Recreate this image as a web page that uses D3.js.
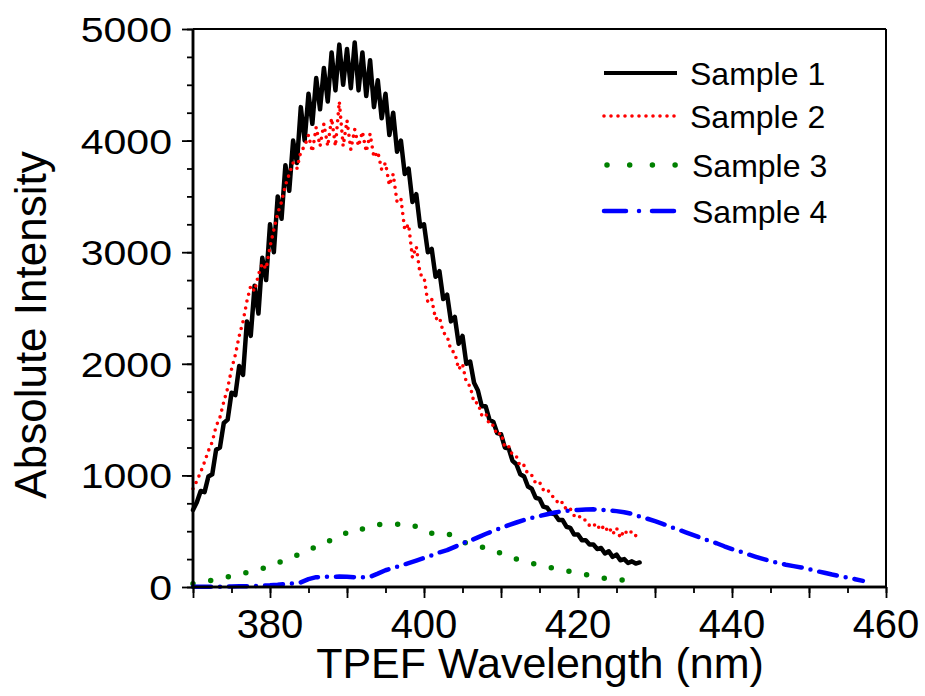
<!DOCTYPE html>
<html>
<head>
<meta charset="utf-8">
<script src="https://cdn.jsdelivr.net/npm/d3@7"></script>
<style>
  html, body { margin: 0; padding: 0; background: #fff; }
  svg { display: block; font-family: "Liberation Sans", Arial, sans-serif; }
</style>
</head>
<body>
<svg id="chart" width="925" height="696"></svg>
<script>
// ---------------- DATA ----------------
const seriesNames = ["Sample 1", "Sample 2", "Sample 3", "Sample 4"];
const xTickLabels = [380, 400, 420, 440, 460];
const yTickLabels = [0, 1000, 2000, 3000, 4000, 5000];

// Sample 1: 370–428 nm, 0.5 nm steps
const sample1Start = 370, sample1Step = 0.5;
const sample1 = [
  690, 760, 860, 850, 990, 1010, 1230, 1250, 1470, 1500,
  1740, 1720, 1980, 1900, 2380, 2250, 2700, 2450, 2950, 2750,
  3250, 3000, 3500, 3300, 3780, 3550, 4000, 3800, 4300, 4000,
  4420, 4150, 4560, 4280, 4650, 4350, 4790, 4450, 4860, 4500,
  4820, 4470, 4880, 4450, 4790, 4400, 4720, 4300, 4540, 4200,
  4420, 4050, 4250, 3900, 4000, 3700, 3750, 3450, 3520, 3230,
  3250, 3000, 3030, 2780, 2830, 2580, 2620, 2380, 2420, 2180,
  2250, 2000, 2020, 1830, 1760, 1620, 1620, 1500, 1480, 1380,
  1370, 1250, 1240, 1130, 1100, 1010, 990, 900, 880, 800,
  790, 720, 710, 660, 650, 600, 600, 540, 530, 470,
  470, 420, 420, 380, 380, 340, 350, 300, 320, 270,
  290, 240, 250, 215, 230, 210, 220
];

// Sample 2: 370–428 nm, 0.5 nm steps
const sample2Start = 370, sample2Step = 0.5;
const sample2 = [
  880, 950, 1030, 1120, 1220, 1300, 1440, 1520, 1660, 1780,
  1950, 2080, 2250, 2380, 2560, 2700, 2650, 2800, 2900, 2850,
  3050, 3200, 3350, 3450, 3600, 3700, 3800, 3750, 3900, 3950,
  4050, 3900, 4120, 3950, 4150, 3950, 4200, 3950, 4350, 3950,
  4180, 3920, 4100, 3950, 4080, 3900, 4060, 3850, 3900, 3740,
  3800, 3600, 3700, 3450, 3480, 3200, 3250, 2950, 3050, 2800,
  2780, 2550, 2580, 2400, 2420, 2280, 2250, 2120, 2100, 1950,
  2000, 1830, 1800, 1650, 1650, 1540, 1560, 1450, 1450, 1360,
  1380, 1250, 1260, 1180, 1170, 1080, 1090, 1010, 1000, 930,
  940, 870, 880, 820, 800, 740, 760, 690, 700, 640,
  650, 600, 600, 550, 570, 520, 560, 500, 540, 470,
  530, 440, 510, 470, 500, 460, 510
];

// Sample 3: 370–428 nm, 1 nm steps
const sample3Start = 370, sample3Step = 1;
const sample3 = [
  30, 40, 55, 68, 82, 98, 115, 130, 142, 165,
  190, 215, 245, 270, 298, 325, 365, 400, 420, 440,
  490, 525, 520, 540, 562, 558, 556, 565, 566, 540,
  505, 482, 490, 475, 458, 410, 375, 366, 350, 333,
  300, 275, 250, 228, 212, 197, 180, 165, 152, 138,
  125, 112, 100, 85, 70, 62, 62, 62, 55
];

// Sample 4: 370–457 nm, 1 nm steps
const sample4Start = 370, sample4Step = 1;
const sample4 = [
  3, 3, 3, 3, 3, 5, 6, 7, 9, 12,
  15, 20, 27, 33, 42, 70, 88, 90, 92, 93,
  92, 88, 88, 92, 120, 150, 172, 192, 214, 237,
  260, 283, 310, 330, 360, 390, 415, 445, 475, 502,
  528, 555, 578, 600, 620, 636, 652, 667, 680, 686,
  690, 695, 696, 692, 688, 680, 670, 655, 632, 612,
  590, 566, 540, 515, 490, 465, 440, 415, 392, 365,
  340, 318, 295, 273, 252, 232, 215, 200, 187, 175,
  160, 142, 128, 112, 98, 85, 70, 55
];

// ---------------- CHART ----------------
const svg = d3.select("#chart");
const x = d3.scaleLinear().domain([370, 460]).range([193, 886]);
const y = d3.scaleLinear().domain([0, 5000]).range([587, 29]);

function toPoints(start, step, vals) {
  return vals.map((v, i) => [start + i * step, v]);
}
const line = d3.line().x(d => x(d[0])).y(d => y(d[1]));

const styles = [
  { color: "#000000", width: 4.5, dash: null, cap: "round" },
  { color: "#ff0000", width: 3.6, dash: "0,7", cap: "round" },
  { color: "#008000", width: 5.5, dash: "0,18", cap: "round" },
  { color: "#0000ff", width: 4.5, dash: "18,9,0,9", cap: "round" }
];
const seriesData = [
  toPoints(sample1Start, sample1Step, sample1),
  toPoints(sample2Start, sample2Step, sample2),
  toPoints(sample3Start, sample3Step, sample3),
  toPoints(sample4Start, sample4Step, sample4)
];

// frame (top & right)
svg.append("line").attr("x1", 193).attr("x2", 886).attr("y1", 29).attr("y2", 29)
  .attr("stroke", "#000").attr("stroke-width", 2);
svg.append("line").attr("x1", 886).attr("x2", 886).attr("y1", 29).attr("y2", 587)
  .attr("stroke", "#000").attr("stroke-width", 2);

// series
seriesData.forEach((pts, i) => {
  const s = styles[i];
  svg.append("path")
    .attr("d", line(pts))
    .attr("fill", "none")
    .attr("stroke", s.color)
    .attr("stroke-width", s.width)
    .attr("stroke-linecap", s.cap)
    .attr("stroke-linejoin", "round")
    .attr("stroke-dasharray", s.dash);
});

// x axis
const xMinor = d3.range(370, 461, 5);
const xAxisMinor = d3.axisBottom(x).tickValues(xMinor).tickSize(6).tickFormat("");
const xAxisMajor = d3.axisBottom(x).tickValues(d3.range(370, 461, 10)).tickSize(11).tickFormat("");
const gxm = svg.append("g").attr("transform", "translate(0,587)").call(xAxisMinor);
const gx = svg.append("g").attr("transform", "translate(0,587)").call(xAxisMajor);
[gxm, gx].forEach(g => {
  g.select(".domain").attr("stroke-width", 2.5).attr("d", "M193,0H886");
  g.selectAll(".tick line").attr("stroke-width", 1.8);
});
svg.append("g").selectAll("text").data(xTickLabels).join("text")
  .attr("x", d => x(d)).attr("y", 638)
  .attr("text-anchor", "middle")
  .attr("font-size", 40)
  .attr("fill", "#000")
  .text(d => d);

// y axis
const yAxisMinor = d3.axisLeft(y).tickValues(d3.range(0, 5001, 250)).tickSize(6).tickFormat("");
const yAxisMajor = d3.axisLeft(y).tickValues(d3.range(0, 5001, 1000)).tickSize(11).tickFormat("");
const gym = svg.append("g").attr("transform", "translate(193,0)").call(yAxisMinor);
const gy = svg.append("g").attr("transform", "translate(193,0)").call(yAxisMajor);
[gym, gy].forEach(g => {
  g.select(".domain").attr("stroke-width", 2.5).attr("d", "M0,587V29");
  g.selectAll(".tick line").attr("stroke-width", 1.8);
});
svg.append("g").selectAll("text").data(yTickLabels).join("text")
  .attr("transform", d => `translate(172,${y(d) + 13}) scale(1.14,1)`)
  .attr("text-anchor", "end")
  .attr("font-size", 36)
  .attr("fill", "#000")
  .text(d => d);

// axis titles
svg.append("text")
  .attr("x", 540).attr("y", 678)
  .attr("text-anchor", "middle")
  .attr("font-size", 43)
  .attr("fill", "#000")
  .text("TPEF Wavelength (nm)");
svg.append("text")
  .attr("transform", "translate(46,325) rotate(-90)")
  .attr("text-anchor", "middle")
  .attr("font-size", 44)
  .attr("fill", "#000")
  .text("Absolute Intensity");

// legend
const legendY = [85, 128, 177, 223];
const legend = svg.append("g");
seriesNames.forEach((name, i) => {
  const s = styles[i];
  const ly = legendY[i] - 12;
  legend.append("line")
    .attr("x1", i === 2 ? 607 : 604).attr("x2", i === 2 ? 676 : 677)
    .attr("y1", ly).attr("y2", ly)
    .attr("stroke", s.color)
    .attr("stroke-width", i === 0 ? 4 : s.width)
    .attr("stroke-linecap", i === 0 ? "butt" : "round")
    .attr("stroke-dasharray", i === 2 ? "0,22.7" : (i === 3 ? "22,13,0,13" : s.dash));
  legend.append("text")
    .attr("x", 690 + (i >= 2 ? 2 : 0)).attr("y", legendY[i])
    .attr("font-size", 32)
    .attr("fill", "#000")
    .text(name);
});
</script>
</body>
</html>
